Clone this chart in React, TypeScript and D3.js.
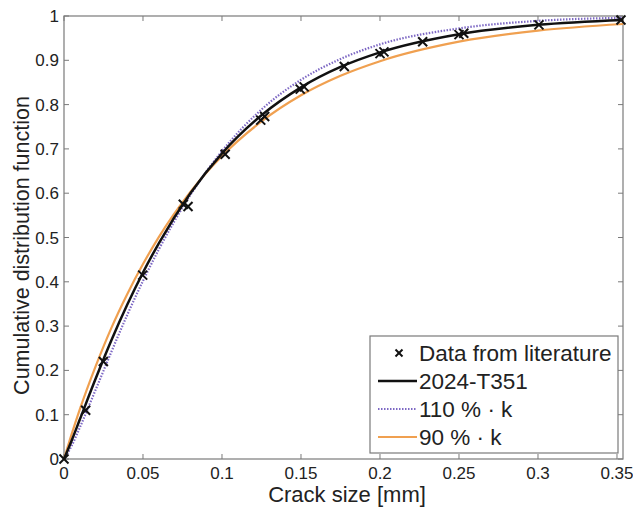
import React from "react";
import * as d3 from "d3";

// Literature data points (crack size [mm], CDF)
const dataX = [0, 0.0137, 0.0249, 0.0498, 0.0755, 0.0785, 0.102, 0.1245, 0.127, 0.1495, 0.152, 0.1774, 0.2, 0.2025, 0.227, 0.25, 0.253, 0.3006, 0.3525];
const dataY = [0, 0.11, 0.22, 0.415, 0.575, 0.57, 0.688, 0.765, 0.773, 0.835, 0.84, 0.886, 0.915, 0.919, 0.942, 0.958, 0.961, 0.98, 0.991];

// Curve samples
const curveX = [0, 0.005, 0.01, 0.02, 0.03, 0.04, 0.05, 0.06, 0.08, 0.1, 0.125, 0.15, 0.175, 0.2, 0.25, 0.3, 0.354];
const fitY = [0, 0.043, 0.089, 0.181, 0.268, 0.348, 0.421, 0.487, 0.6, 0.69, 0.776, 0.839, 0.885, 0.918, 0.959, 0.98, 0.991];
const k110Y = [0, 0.031, 0.071, 0.156, 0.242, 0.325, 0.402, 0.473, 0.596, 0.695, 0.789, 0.856, 0.903, 0.936, 0.972, 0.989, 0.996];
const k90Y = [0, 0.058, 0.112, 0.209, 0.296, 0.372, 0.44, 0.501, 0.603, 0.684, 0.762, 0.821, 0.865, 0.898, 0.942, 0.967, 0.982];

const xTicks = [0, 0.05, 0.1, 0.15, 0.2, 0.25, 0.3, 0.35];
const yTicks = [0, 0.1, 0.2, 0.3, 0.4, 0.5, 0.6, 0.7, 0.8, 0.9, 1];
const legendLabels = ["Data from literature", "2024-T351", "110 % · k", "90 % · k"];

const W = 633, H = 508;
const L = 64, R = 623, T = 16, B = 459;
const FONT = "'Liberation Sans', Arial, Helvetica, sans-serif";
const BLACK = "#111";
const PURPLE = "#7d68c4";
const ORANGE = "#f0a050";
const AXIS = "#7a7a7a";
const TEXT = "#222";

export default function App() {
  const x = d3.scaleLinear().domain([0, 0.3538]).range([L, R]);
  const y = d3.scaleLinear().domain([0, 1]).range([B, T]);
  const line = (ys: number[]) =>
    d3.line<number>().x((_, i) => x(curveX[i])).y((v) => y(v)).curve(d3.curveMonotoneX)(ys) || "";

  const fmt = (v: number) => (v === 0 ? "0" : v === 1 ? "1" : String(v));
  const tick = 5;

  const mark = (cx: number, cy: number, s: number, key: string | number) => (
    <g key={key}>
      <line x1={cx - s} y1={cy - s} x2={cx + s} y2={cy + s} stroke={BLACK} strokeWidth={2} />
      <line x1={cx - s} y1={cy + s} x2={cx + s} y2={cy - s} stroke={BLACK} strokeWidth={2} />
    </g>
  );

  const legX = 370, legY = 336, legW = 248, legH = 117;
  const rowY = [353, 381, 409, 437];

  return (
    <svg width={W} height={H} style={{ position: "absolute", left: 0, top: 0, background: "#fff" }} fontFamily={FONT}>
      <rect x={0} y={0} width={W} height={H} fill="#fff" />
      {/* ticks */}
      {xTicks.map((t) => (
        <g key={"xt" + t}>
          <line x1={x(t)} x2={x(t)} y1={B} y2={B - tick} stroke={AXIS} />
          <line x1={x(t)} x2={x(t)} y1={T} y2={T + tick} stroke={AXIS} />
          <text x={x(t)} y={479} textAnchor="middle" fontSize={17} fill={TEXT}>{fmt(t)}</text>
        </g>
      ))}
      {yTicks.map((t) => (
        <g key={"yt" + t}>
          <line x1={L} x2={L + tick} y1={y(t)} y2={y(t)} stroke={AXIS} />
          <line x1={R} x2={R - tick} y1={y(t)} y2={y(t)} stroke={AXIS} />
          <text x={59} y={y(t) + 6} textAnchor="end" fontSize={17} fill={TEXT}>{fmt(t)}</text>
        </g>
      ))}
      <rect x={L} y={T} width={R - L} height={B - T} fill="none" stroke={AXIS} strokeWidth={1.2} />

      {/* curves */}
      <path d={line(k90Y)} fill="none" stroke={ORANGE} strokeWidth={2.2} />
      <path d={line(k110Y)} fill="none" stroke={PURPLE} strokeWidth={2.2} strokeDasharray="1.5,1.5" />
      <path d={line(fitY)} fill="none" stroke={BLACK} strokeWidth={2.5} />
      {dataX.map((dx, i) => mark(x(dx), y(dataY[i]), 4.5, i))}

      {/* axis labels */}
      <text x={347} y={502} textAnchor="middle" fontSize={22} fill={TEXT}>Crack size [mm]</text>
      <text transform={`translate(29,${(T + B) / 2 + 8}) rotate(-90)`} textAnchor="middle" fontSize={21.5} fill={TEXT}>
        Cumulative distribution function
      </text>

      {/* legend */}
      <rect x={legX} y={legY} width={legW} height={legH} fill="#fff" stroke={AXIS} strokeWidth={1.2} />
      {mark(399, rowY[0], 3.5, "lm")}
      <line x1={378} x2={417} y1={rowY[1]} y2={rowY[1]} stroke={BLACK} strokeWidth={2.5} />
      <line x1={378} x2={417} y1={rowY[2]} y2={rowY[2]} stroke={PURPLE} strokeWidth={2.2} strokeDasharray="1.5,1.5" />
      <line x1={378} x2={417} y1={rowY[3]} y2={rowY[3]} stroke={ORANGE} strokeWidth={2.2} />
      {legendLabels.map((lab, i) => (
        <text key={lab} x={419} y={rowY[i] + 8} fontSize={22.5} fill={TEXT}>{lab}</text>
      ))}
    </svg>
  );
}
